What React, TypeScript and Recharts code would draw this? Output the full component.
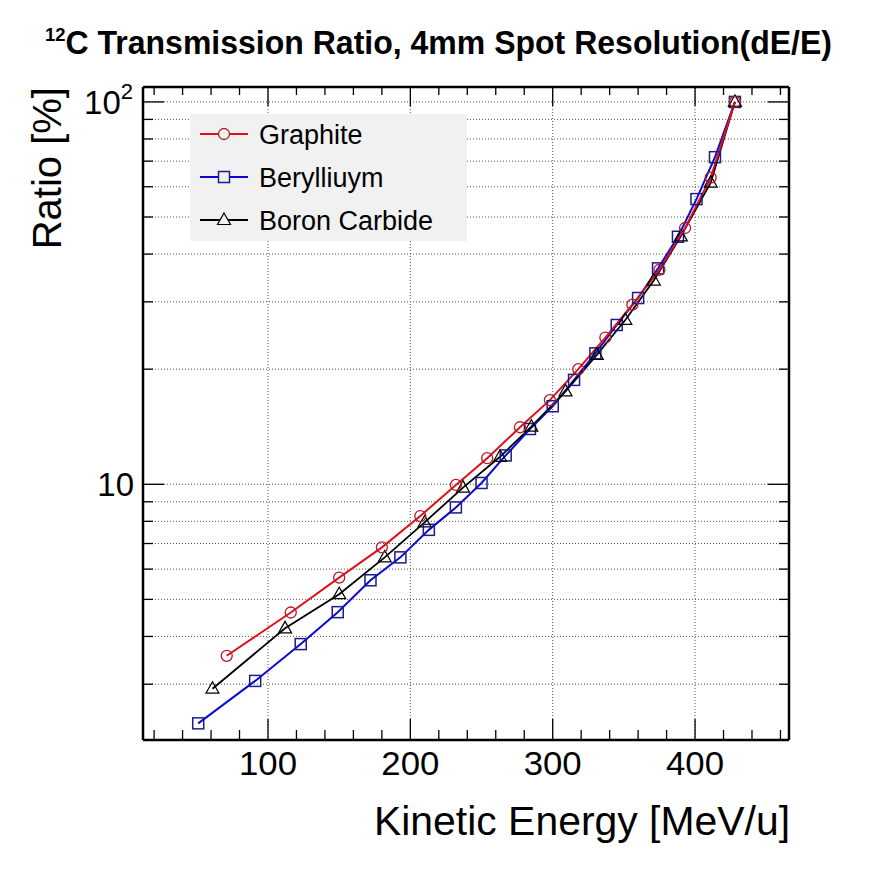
import React from "react";
import { LineChart, Line, XAxis, YAxis, CartesianGrid, ReferenceLine } from "recharts";

// kinetic energy [MeV/u] and transmission ratio [%] per target material
const graphiteE = [71, 116, 150, 180, 207, 232, 254, 277, 298, 318, 337, 356, 375, 393, 411, 428];
const graphiteR = [3.56, 4.62, 5.7, 6.84, 8.26, 9.96, 11.7, 14.1, 16.6, 20.0, 24.2, 29.5, 36.4, 46.8, 63.4, 100];

const berylliumE = [51, 91, 123, 149, 172, 193, 213, 232, 250, 267, 284, 300, 315, 330, 345, 360, 374, 388, 401, 414, 428];
const berylliumR = [2.37, 3.06, 3.82, 4.63, 5.61, 6.44, 7.6, 8.7, 10.08, 11.9, 13.95, 16.0, 18.75, 22.0, 26.1, 30.7, 36.7, 44.4, 55.7, 71.7, 100];

const boronE = [61, 112, 150, 182, 210, 237, 263, 285, 309, 331, 351, 371, 390, 411, 428];
const boronR = [2.92, 4.2, 5.16, 6.44, 7.95, 9.8, 11.8, 14.15, 17.5, 21.8, 26.9, 34.1, 44.5, 61.5, 100];

const xTicks = [20, 40, 60, 80, 100, 120, 140, 160, 180, 200, 220, 240, 260, 280, 300, 320, 340, 360, 380, 400, 420, 440, 460];
const xMajor = [100, 200, 300, 400];
const yTicks = [3, 4, 5, 6, 7, 8, 9, 10, 20, 30, 40, 50, 60, 70, 80, 90, 100];
const yMajor = [10, 100];

const W = 896;
const H = 872;
const FONT = "'Liberation Sans', Arial, Helvetica, sans-serif";

const RED = "#e0101a";
const RED_MK = "#b01c28";
const BLUE = "#0a0ad8";
const BLUE_MK = "#1c1c8a";
const GRID = "#555";

const toRows = (xs: number[], ys: number[]) => xs.map((x, i) => ({ x, y: ys[i] }));
const graphite = toRows(graphiteE, graphiteR);
const beryllium = toRows(berylliumE, berylliumR);
const boron = toRows(boronE, boronR);

const TICK_MINOR = 10;
const TICK_MAJOR = 21;

const BottomTick = (p: any) => {
  const major = xMajor.includes(p.payload.value);
  return (
    <g>
      <line x1={p.x} x2={p.x} y1={p.y} y2={p.y - (major ? TICK_MAJOR : TICK_MINOR)} stroke="#000" strokeWidth={1.3} />
      {major && (
        <text
          x={p.x}
          y={p.y + 35}
          textAnchor="middle"
          fontFamily={FONT}
          fontSize={33}
          fill="#000"
          textLength={58}
          lengthAdjust="spacingAndGlyphs"
        >
          {p.payload.value}
        </text>
      )}
    </g>
  );
};

const TopTick = (p: any) => {
  const major = xMajor.includes(p.payload.value);
  return <line x1={p.x} x2={p.x} y1={p.y} y2={p.y + (major ? TICK_MAJOR - 2 : TICK_MINOR - 2)} stroke="#000" strokeWidth={1.3} />;
};

const LeftTick = (p: any) => {
  const v = p.payload.value;
  const major = yMajor.includes(v);
  return (
    <g>
      <line x1={p.x} x2={p.x + (major ? TICK_MAJOR : TICK_MINOR)} y1={p.y} y2={p.y} stroke="#000" strokeWidth={1.3} />
      {v === 10 && (
        <text x={p.x - 9} y={p.y + 12} textAnchor="end" fontFamily={FONT} fontSize={33} fill="#000">
          10
        </text>
      )}
      {v === 100 && (
        <text x={p.x - 10} y={p.y + 12} textAnchor="end" fontFamily={FONT} fontSize={33} fill="#000">
          10
          <tspan fontSize={22} dy={-15}>
            2
          </tspan>
        </text>
      )}
    </g>
  );
};

const RightTick = (p: any) => {
  const major = yMajor.includes(p.payload.value);
  return <line x1={p.x} x2={p.x - (major ? TICK_MAJOR : TICK_MINOR)} y1={p.y} y2={p.y} stroke="#000" strokeWidth={1.3} />;
};

const Circle = (p: any) => (
  <circle key={p.index} cx={p.cx} cy={p.cy} r={5.5} fill="none" stroke={RED_MK} strokeWidth={1.3} />
);
const Square = (p: any) => (
  <rect key={p.index} x={p.cx - 5.5} y={p.cy - 5.5} width={11} height={11} fill="none" stroke={BLUE_MK} strokeWidth={1.5} />
);
const Triangle = (p: any) => (
  <path
    key={p.index}
    d={`M${p.cx},${p.cy - 7} L${p.cx + 6.5},${p.cy + 4.5} L${p.cx - 6.5},${p.cy + 4.5} Z`}
    fill="none"
    stroke="#000"
    strokeWidth={1.2}
  />
);

const legendItems = [
  { name: "Graphite", color: RED, marker: "circle" },
  { name: "Berylliuym", color: BLUE, marker: "square" },
  { name: "Boron Carbide", color: "#000", marker: "triangle" },
];

function Overlay() {
  return (
    <svg width={W} height={H} style={{ position: "absolute", left: 0, top: 0, pointerEvents: "none" }}>
      <text x={45} y={54} fontFamily={FONT} fontWeight="bold" fontSize={33} fill="#000" textLength={787} lengthAdjust="spacingAndGlyphs">
        <tspan fontSize={19} dy={-13}>
          12
        </tspan>
        <tspan dy={13}>C Transmission Ratio, 4mm Spot Resolution(dE/E)</tspan>
      </text>
      <text x={790} y={835} textAnchor="end" fontFamily={FONT} fontSize={41} fill="#000" textLength={416} lengthAdjust="spacingAndGlyphs">
        Kinetic Energy [MeV/u]
      </text>
      <text transform="translate(61,87) rotate(-90)" textAnchor="end" fontFamily={FONT} fontSize={40} fill="#000">
        Ratio [%]
      </text>

      <rect x={190} y={114} width={277} height={127} fill="#f1f1f1" />
      {legendItems.map((it, i) => {
        const cy = 134 + i * 43;
        return (
          <g key={it.name}>
            <line x1={200} x2={248} y1={cy} y2={cy} stroke={it.color} strokeWidth={2} />
            {it.marker === "circle" && <circle cx={224} cy={cy} r={5.5} fill="#f1f1f1" stroke={RED_MK} strokeWidth={1.3} />}
            {it.marker === "square" && (
              <rect x={218.5} y={cy - 5.5} width={11} height={11} fill="#f1f1f1" stroke={BLUE_MK} strokeWidth={1.5} />
            )}
            {it.marker === "triangle" && (
              <path d={`M224,${cy - 7} L230.5,${cy + 4.5} L217.5,${cy + 4.5} Z`} fill="#f1f1f1" stroke="#000" strokeWidth={1.2} />
            )}
            <text x={259} y={cy + 10} fontFamily={FONT} fontSize={27} fill="#000">
              {it.name}
            </text>
          </g>
        );
      })}
    </svg>
  );
}

export default function App() {
  return (
    <div style={{ position: "absolute", left: 0, top: 0, width: W, height: H, background: "#fff" }}>
      <LineChart width={W} height={H} margin={{ top: 67, right: 87, bottom: 92, left: 83 }}>
        <CartesianGrid vertical={false} stroke={GRID} strokeDasharray="1 2" />
        {xMajor.map((v) => (
          <ReferenceLine key={v} x={v} stroke={GRID} strokeDasharray="1 2" ifOverflow="hidden" />
        ))}
        <XAxis
          dataKey="x"
          type="number"
          domain={[12.2, 466]}
          allowDataOverflow
          ticks={xTicks}
          interval={0}
          height={40}
          tickSize={0}
          tickMargin={0}
          axisLine={{ stroke: "#000", strokeWidth: 2.5 }}
          tick={(p: any) => <BottomTick {...p} />}
        />
        <XAxis
          xAxisId="top"
          orientation="top"
          dataKey="x"
          type="number"
          domain={[12.2, 466]}
          allowDataOverflow
          ticks={xTicks}
          interval={0}
          height={20}
          tickSize={0}
          tickMargin={0}
          axisLine={{ stroke: "#000", strokeWidth: 2.5 }}
          tick={(p: any) => <TopTick {...p} />}
        />
        <YAxis
          scale="log"
          type="number"
          domain={[2.144, 109.4]}
          allowDataOverflow
          ticks={yTicks}
          interval={0}
          width={60}
          tickSize={0}
          tickMargin={0}
          axisLine={{ stroke: "#000", strokeWidth: 2.5 }}
          tick={(p: any) => <LeftTick {...p} />}
        />
        <YAxis
          yAxisId="right"
          orientation="right"
          scale="log"
          type="number"
          domain={[2.144, 109.4]}
          allowDataOverflow
          ticks={yTicks}
          interval={0}
          width={20}
          tickSize={0}
          tickMargin={0}
          axisLine={{ stroke: "#000", strokeWidth: 2.5 }}
          tick={(p: any) => <RightTick {...p} />}
        />
        <Line
          data={beryllium}
          dataKey="y"
          name="Berylliuym"
          stroke={BLUE}
          strokeWidth={2}
          dot={(p: any) => <Square {...p} />}
          isAnimationActive={false}
        />
        <Line
          data={boron}
          dataKey="y"
          name="Boron Carbide"
          stroke="#000"
          strokeWidth={1.8}
          dot={(p: any) => <Triangle {...p} />}
          isAnimationActive={false}
        />
        <Line
          data={graphite}
          dataKey="y"
          name="Graphite"
          stroke={RED}
          strokeWidth={2}
          dot={(p: any) => <Circle {...p} />}
          isAnimationActive={false}
        />
      </LineChart>
      <Overlay />
    </div>
  );
}
